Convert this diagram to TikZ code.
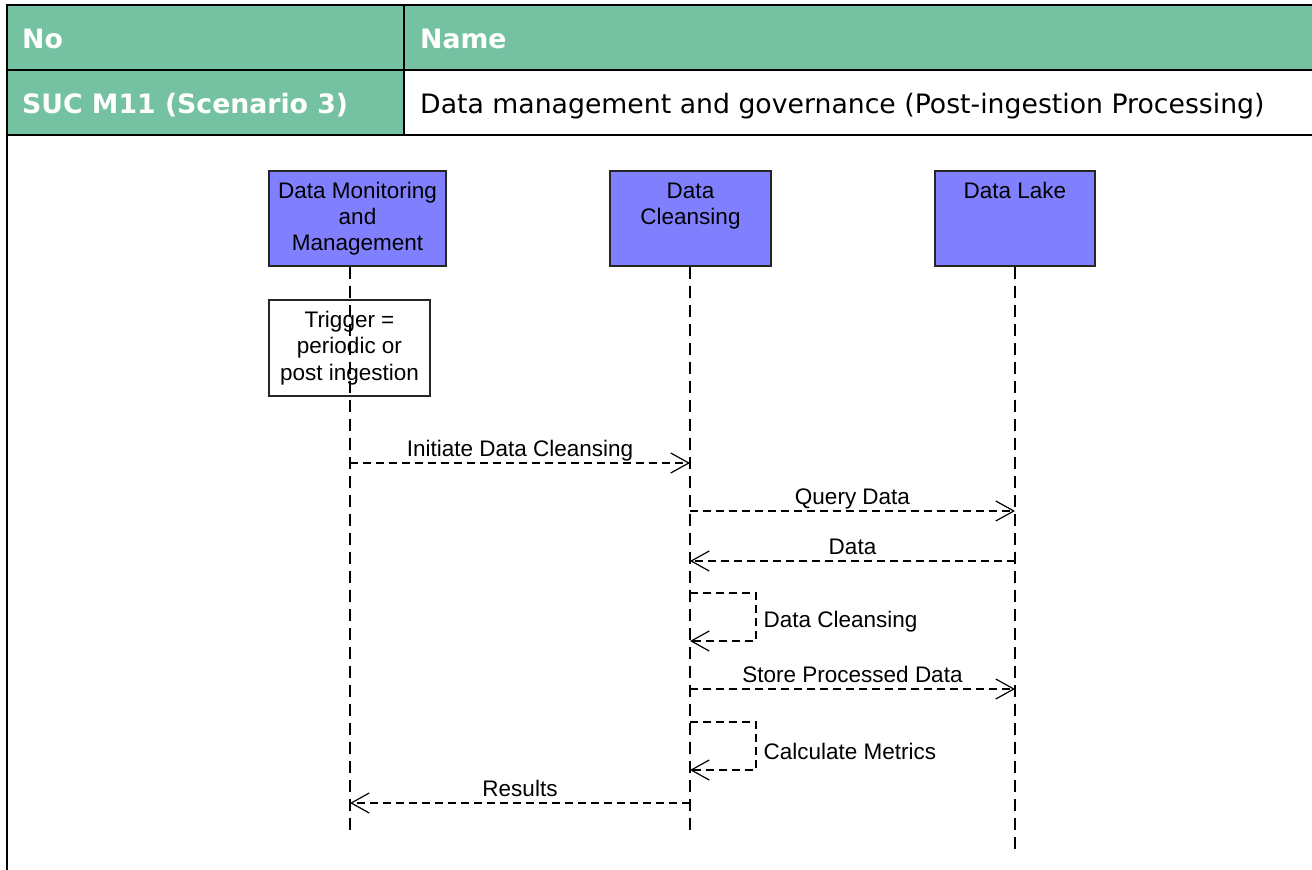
\documentclass[tikz,border=0pt]{standalone}
\usepackage{fontspec}
\setmainfont{Liberation Sans}
\newfontfamily\tabfont{DejaVu Sans}
\usetikzlibrary{positioning, arrows.meta}

\definecolor{headgreen}{RGB}{116,194,161}
\definecolor{lifeblue}{RGB}{128,128,255}

\begin{document}
\begin{tikzpicture}[x=1pt, y=-1pt,
  cell/.style={anchor=base west, inner sep=0pt, font=\tabfont\fontsize{26.7}{31}\selectfont},
  headcell/.style={cell, text=white, font=\tabfont\bfseries\fontsize{26.7}{31}\selectfont},
  actor/.style={draw=black!85, fill=lifeblue, line width=1.2pt, minimum height=95pt},
  actorname/.style={anchor=north, align=center, inner sep=0pt, font=\fontsize{22.5}{26}\selectfont},
  note/.style={draw=black!85, fill=white, line width=1.2pt, minimum width=161pt, minimum height=96pt, align=center, font=\fontsize{22.5}{26.5}\selectfont},
  lifeline/.style={line width=1.2pt, dash pattern=on 12pt off 7pt},
  msg/.style={line width=1.2pt, dash pattern=on 8pt off 5pt, -{Straight Barb[length=18pt, width=20pt, line width=1.2pt]}},
  msglabel/.style={anchor=base, yshift=6.5pt, inner sep=0pt, font=\fontsize{22.5}{26}\selectfont},
  selflabel/.style={anchor=west, xshift=7pt, yshift=-5pt, inner sep=0pt, font=\fontsize{22.5}{26}\selectfont}
]
\useasboundingbox (0,0) rectangle (1312,870);

\fill[headgreen] (7,5) rectangle (1312,70);
\fill[headgreen] (7,70) rectangle (404,135);
\draw[line width=2.5pt] (1312,5) -- (7,5) -- (7,870);
\draw[line width=2.5pt] (7,70) -- (1312,70);
\draw[line width=2.5pt] (7,135) -- (1312,135);
\draw[line width=2.5pt] (404,5) -- (404,135);

\node[headcell] (nohead) at (22,48) {No};
\node[headcell] (namehead) at (420,48) {Name};
\node[headcell] (sucid) at (22,113) {SUC M11 (Scenario 3)};
\node[cell] (sucname) at (420,113) {Data management and governance (Post-ingestion Processing)};

\node[actor, minimum width=177pt] (dmm) at (357.5,218.5) {};
\node[actor, minimum width=161pt] (dcl) at (690.5,218.5) {};
\node[actor, minimum width=160pt] (dlake) at (1015,218.5) {};
\node[actorname, below=12pt of dmm.north] (dmmtext) {Data Monitoring\\and\\Management};
\node[actorname, below=12pt of dcl.north] (dcltext) {Data\\Cleansing};
\node[actorname, below=12pt of dlake.north] (dlaketext) {Data Lake};

\node[note] (trigger) at (349.5,348) {Trigger =\\periodic or\\post ingestion};

\coordinate (dmmend) at (350,830);
\coordinate (dclend) at (690,830);
\coordinate (dlakeend) at (1015,852);
\draw[lifeline] (dmmend |- dmm.south) -- (dmmend);
\draw[lifeline] (dclend |- dcl.south) -- (dclend);
\draw[lifeline] (dlakeend |- dlake.south) -- (dlakeend);

\coordinate (init1) at (350,463);
\coordinate (init2) at (690,463);
\coordinate (query1) at (690,511);
\coordinate (query2) at (1015,511);
\coordinate (data1) at (1015,561);
\coordinate (data2) at (690,561);
\coordinate (clean1) at (690,593);
\coordinate (clean2) at (690,641);
\coordinate (store1) at (690,689);
\coordinate (store2) at (1015,689);
\coordinate (calc1) at (690,722);
\coordinate (calc2) at (690,770);
\coordinate (res1) at (690,803);
\coordinate (res2) at (350,803);

\draw[msg] (init1) -- node[msglabel] {Initiate Data Cleansing} (init2);
\draw[msg] (query1) -- node[msglabel] {Query Data} (query2);
\draw[msg] (data1) -- node[msglabel] {Data} (data2);
\draw[msg] (clean1) -- ++(66,0) |- node[selflabel, pos=0.25] {Data Cleansing} (clean2);
\draw[msg] (store1) -- node[msglabel] {Store Processed Data} (store2);
\draw[msg] (calc1) -- ++(66,0) |- node[selflabel, pos=0.25] {Calculate Metrics} (calc2);
\draw[msg] (res1) -- node[msglabel] {Results} (res2);

\end{tikzpicture}
\end{document}
